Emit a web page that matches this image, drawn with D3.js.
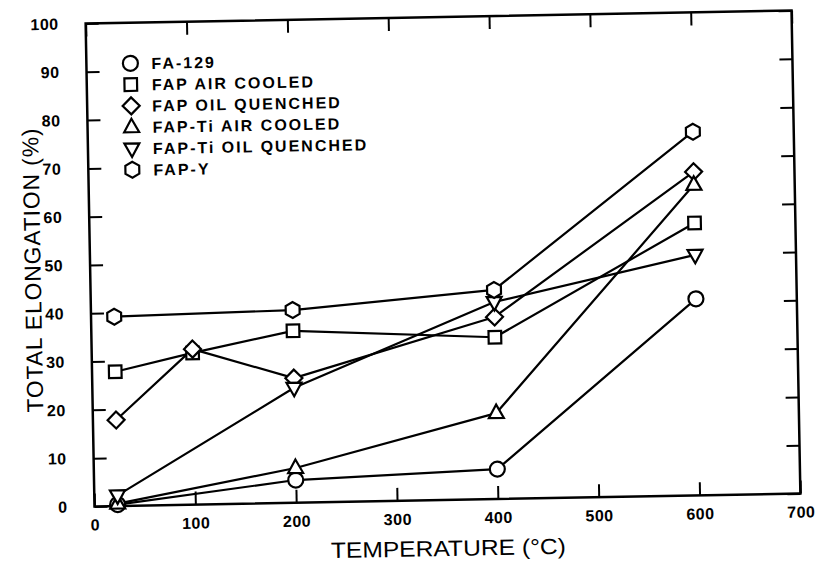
<!DOCTYPE html>
<html>
<head>
<meta charset="utf-8">
<script src="https://cdn.jsdelivr.net/npm/d3@7"></script>
<style>
  body { margin: 0; background: #fff; }
  svg text { font-family: "Liberation Sans", Arial, sans-serif; fill: #000; }
</style>
</head>
<body>
<div id="chart"></div>
<script>
// axis ticks
var xTicks = [0, 100, 200, 300, 400, 500, 600, 700];
var yTicks = [0, 10, 20, 30, 40, 50, 60, 70, 80, 90, 100];

// series
var seriesNames = ["FA-129", "FAP AIR COOLED", "FAP OIL QUENCHED",
                   "FAP-Ti AIR COOLED", "FAP-Ti OIL QUENCHED", "FAP-Y"];
var seriesShapes = ["circle", "square", "diamond", "triangleUp", "triangleDown", "hexagon"];

var tempFA129 = [23, 200, 400, 600];
var elongFA129 = [0.3, 4.7, 6.2, 40.7];

var tempFapAir = [23, 100, 200, 400, 600];
var elongFapAir = [27.8, 31.4, 35.6, 33.5, 56.4];

var tempFapOil = [23, 100, 200, 400, 600];
var elongFapOil = [17.8, 32.2, 25.8, 37.7, 67.0];

var tempFapTiAir = [23, 200, 400, 600];
var elongFapTiAir = [0.5, 7.2, 17.8, 64.3];

var tempFapTiOil = [23, 200, 400, 600];
var elongFapTiOil = [2.2, 23.8, 40.8, 49.8];

var tempFapY = [23, 200, 400, 600];
var elongFapY = [39.2, 39.9, 43.3, 75.3];

var seriesTemps = [tempFA129, tempFapAir, tempFapOil, tempFapTiAir, tempFapTiOil, tempFapY];
var seriesElong = [elongFA129, elongFapAir, elongFapOil, elongFapTiAir, elongFapTiOil, elongFapY];

var width = 820,
    height = 565;

var margin = {top: 17, right: 24, bottom: 65, left: 90};
var innerW = width - margin.left - margin.right,
    innerH = height - margin.top - margin.bottom;

var x = d3.scaleLinear().domain([0, 700]).range([0, innerW]);
var y = d3.scaleLinear().domain([0, 100]).range([innerH, 0]);

// marker paths centred on 0,0
function markerPath(shape) {
  var p = d3.path();
  if (shape === "circle") {
    p.arc(0, 0, 7.5, 0, 2 * Math.PI);
  } else if (shape === "square") {
    p.rect(-6.3, -6.3, 12.6, 12.6);
  } else if (shape === "diamond") {
    p.moveTo(0, -8.5); p.lineTo(8.5, 0); p.lineTo(0, 8.5); p.lineTo(-8.5, 0); p.closePath();
  } else if (shape === "triangleUp") {
    p.moveTo(0, -8.5); p.lineTo(7.5, 5); p.lineTo(-7.5, 5); p.closePath();
  } else if (shape === "triangleDown") {
    p.moveTo(0, 8.5); p.lineTo(7.5, -5); p.lineTo(-7.5, -5); p.closePath();
  } else if (shape === "hexagon") {
    for (var i = 0; i < 6; i++) {
      var a = Math.PI / 6 + i * Math.PI / 3;
      if (i === 0) p.moveTo(8 * Math.cos(a), 8 * Math.sin(a));
      else p.lineTo(8 * Math.cos(a), 8 * Math.sin(a));
    }
    p.closePath();
  }
  return p.toString();
}

var svg = d3.select("#chart").append("svg")
    .attr("width", width)
    .attr("height", height);

// the scanned figure sits about one degree off square
var page = svg.append("g")
    .attr("transform", "rotate(-1.05,443,257.75)");

var g = page.append("g")
    .attr("transform", "translate(" + margin.left + "," + margin.top + ")");

// inward ticks on all four sides
var tickLen = 13;

var xAxis = g.append("g")
    .attr("transform", "translate(0," + innerH + ")")
    .call(d3.axisBottom(x).tickValues(xTicks).tickSizeInner(-tickLen).tickSizeOuter(0).tickPadding(tickLen + 12));

g.append("g")
    .call(d3.axisTop(x).tickValues(xTicks).tickSizeInner(-tickLen).tickSizeOuter(0).tickFormat(""));

var yAxis = g.append("g")
    .call(d3.axisLeft(y).tickValues(yTicks).tickSizeInner(-tickLen).tickSizeOuter(0).tickPadding(tickLen + 14));

g.append("g")
    .attr("transform", "translate(" + innerW + ",0)")
    .call(d3.axisRight(y).tickValues(yTicks).tickSizeInner(-tickLen).tickSizeOuter(0).tickFormat(""));

g.selectAll(".domain").remove();
g.selectAll(".tick line").attr("stroke", "#000").attr("stroke-width", 2);

g.selectAll(".tick text")
    .style("font-size", "16px")
    .style("font-weight", "bold")
    .style("letter-spacing", "0.5px");

xAxis.selectAll(".tick text").attr("dy", "0.35em").attr("y", 18.5);

// frame
g.append("rect")
    .attr("width", innerW)
    .attr("height", innerH)
    .attr("fill", "none")
    .attr("stroke", "#000")
    .attr("stroke-width", 2.5);

// lines then markers
var line = d3.line()
    .x(function(d) { return x(d[0]); })
    .y(function(d) { return y(d[1]); });

seriesNames.forEach(function(name, i) {
  var pts = seriesTemps[i].map(function(t, j) { return [t, seriesElong[i][j]]; });
  g.append("path")
      .datum(pts)
      .attr("d", line)
      .attr("fill", "none")
      .attr("stroke", "#000")
      .attr("stroke-width", 2.2)
      .attr("stroke-linejoin", "round");
});

seriesNames.forEach(function(name, i) {
  var pts = seriesTemps[i].map(function(t, j) { return [t, seriesElong[i][j]]; });
  g.selectAll(".m" + i)
      .data(pts)
    .enter().append("path")
      .attr("class", "m" + i)
      .attr("transform", function(d) { return "translate(" + x(d[0]) + "," + y(d[1]) + ")"; })
      .attr("d", markerPath(seriesShapes[i]))
      .attr("fill", "#fff")
      .attr("stroke", "#000")
      .attr("stroke-width", 2.2);
});

// legend
var legend = page.append("g")
    .attr("transform", "translate(134,57.6)");

seriesNames.forEach(function(name, i) {
  var row = legend.append("g").attr("transform", "translate(0," + (i * 21.3) + ")");
  row.append("path")
      .attr("d", markerPath(seriesShapes[i]))
      .attr("fill", "#fff")
      .attr("stroke", "#000")
      .attr("stroke-width", 2.2);
  row.append("text")
      .attr("x", 21)
      .attr("y", 6)
      .style("font-size", "16px")
      .style("font-weight", "bold")
      .style("letter-spacing", "2px")
      .text(name);
});

// axis titles
page.append("text")
    .attr("x", margin.left + innerW / 2)
    .attr("y", 556)
    .attr("text-anchor", "middle")
    .attr("textLength", 235)
    .attr("lengthAdjust", "spacingAndGlyphs")
    .style("font-size", "22px")
    .text("TEMPERATURE (°C)");

page.append("text")
    .attr("transform", "translate(40.5,262.5) rotate(-90)")
    .attr("text-anchor", "middle")
    .attr("textLength", 285)
    .attr("lengthAdjust", "spacingAndGlyphs")
    .style("font-size", "23px")
    .style("letter-spacing", "1px")
    .text("TOTAL ELONGATION (%)");
</script>
</body>
</html>
